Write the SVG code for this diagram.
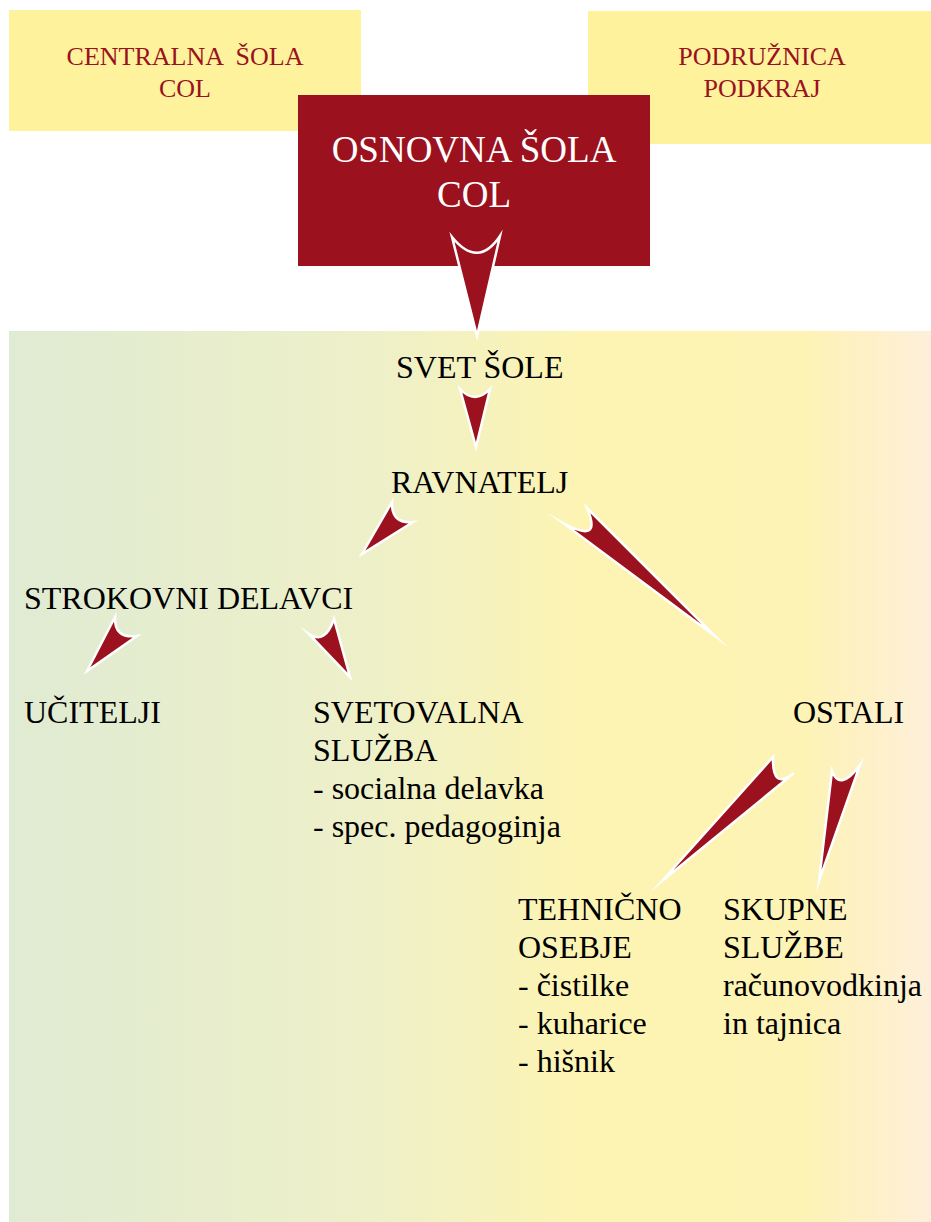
<svg xmlns="http://www.w3.org/2000/svg" width="931" height="1222" viewBox="0 0 931 1222">
<defs>
<linearGradient id="bg" x1="0" y1="0" x2="1" y2="0">
<stop offset="0" stop-color="#e0ebd3"/>
<stop offset="0.4" stop-color="#eef0c8"/>
<stop offset="0.62" stop-color="#fdf4b3"/>
<stop offset="0.86" stop-color="#fdf3b4"/>
<stop offset="1" stop-color="#feefda"/>
</linearGradient>
<style>
.yb{fill:#fef39c}
.rb{fill:#9b111e}
.t{font-family:"Liberation Serif","Times New Roman",serif;font-size:32px;fill:#000}
.ty{font-family:"Liberation Serif","Times New Roman",serif;font-size:26px;fill:#9b111e;text-anchor:middle}
.tw{font-family:"Liberation Serif","Times New Roman",serif;font-size:37px;fill:#fff;text-anchor:middle}
.ar{fill:#9b111e;stroke:#fff;stroke-width:2.5;stroke-linejoin:miter;stroke-miterlimit:20}
</style>
</defs>
<rect x="9" y="331" width="922" height="891" fill="url(#bg)"/>
<g id="centralna">
<rect class="yb" x="9" y="10" width="352" height="121"/>
<text class="ty" x="185" y="65" xml:space="preserve">CENTRALNA  ŠOLA</text>
<text class="ty" x="185" y="97">COL</text>
</g>
<g id="podruznica">
<rect class="yb" x="588" y="11" width="343" height="133"/>
<text class="ty" x="762" y="65">PODRUŽNICA</text>
<text class="ty" x="762" y="97">PODKRAJ</text>
</g>
<g id="osnovna">
<rect class="rb" x="298" y="95" width="352" height="171"/>
<text class="tw" x="474" y="162">OSNOVNA ŠOLA</text>
<text class="tw" x="474" y="207">COL</text>
</g>
<g id="connectors">
<path class="ar" d="M452,237 Q478,269 500,236 L477,336 Z"/>
<path class="ar" d="M460,389 Q475,405 490,389 L476,447 Z"/>
<path class="ar" d="M392,502 Q391,524 413,522 L362,554 Z"/>
<path class="ar" d="M587,508 Q603,545 563,523 L715,636 Z"/>
<path class="ar" d="M115,617 Q114,639 137,636 L87,671 Z"/>
<path class="ar" d="M334,619 Q325,645 309,634 L350,677 Z"/>
<path class="ar" d="M773,757 Q772,791 794,773 L662,881 Z"/>
<path class="ar" d="M832,771 Q840,792 860,765 L819,881 Z"/>
</g>
<g id="svet"><text class="t" x="396" y="378">SVET ŠOLE</text></g>
<g id="ravnatelj"><text class="t" x="391" y="493">RAVNATELJ</text></g>
<g id="strokovni"><text class="t" x="24" y="609">STROKOVNI DELAVCI</text></g>
<g id="ucitelji"><text class="t" x="24" y="723">UČITELJI</text></g>
<g id="svetovalna">
<text class="t" x="313" y="723">SVETOVALNA</text>
<text class="t" x="313" y="761">SLUŽBA</text>
<text class="t" x="313" y="799">- socialna delavka</text>
<text class="t" x="313" y="837">- spec. pedagoginja</text>
</g>
<g id="ostali"><text class="t" x="793" y="723">OSTALI</text></g>
<g id="tehnicno">
<text class="t" x="518" y="920">TEHNIČNO</text>
<text class="t" x="518" y="958">OSEBJE</text>
<text class="t" x="518" y="996">- čistilke</text>
<text class="t" x="518" y="1034">- kuharice</text>
<text class="t" x="518" y="1072">- hišnik</text>
</g>
<g id="skupne">
<text class="t" x="723" y="920">SKUPNE</text>
<text class="t" x="723" y="958">SLUŽBE</text>
<text class="t" x="723" y="996">računovodkinja</text>
<text class="t" x="723" y="1034">in tajnica</text>
</g>
</svg>
